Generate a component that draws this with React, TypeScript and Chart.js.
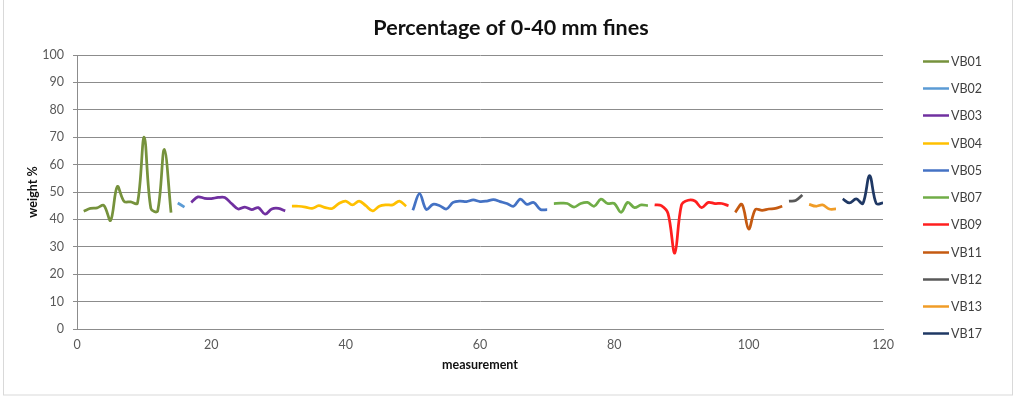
import React, { useEffect, useRef } from "react";
import { Chart, registerables } from "chart.js";

Chart.register(...registerables);

const chartTitle = "Percentage of 0-40 mm fines";
const xAxisTitle = "measurement";
const yAxisTitle = "weight %";

const seriesNames = ["VB01", "VB02", "VB03", "VB04", "VB05", "VB07", "VB09", "VB11", "VB12", "VB13", "VB17"];
const seriesColors = ["#76923c", "#5b9bd5", "#7030a0", "#ffc000", "#4472c4", "#70ad47", "#ff1f1f", "#c55a11", "#595959", "#f09c27", "#1f3864"];
// first measurement number of each series
const seriesStart = [1, 15, 17, 32, 50, 71, 86, 98, 106, 109, 114];

const vb01 = [43, 44, 44.2, 45.1, 39.6, 52, 46.6, 46.4, 45.9, 70, 44, 43, 65.6, 42.5];
const vb02 = [46, 44.5];
const vb03 = [46.2, 48.2, 47.7, 47.6, 48, 48, 45.8, 43.8, 44.5, 43.6, 44.3, 41.9, 43.8, 44, 43.1];
const vb04 = [44.8, 44.8, 44.5, 44, 45, 44.3, 44, 45.8, 46.7, 45.3, 46.7, 45, 43.1, 44.8, 45.3, 45.3, 46.7, 44.8];
const vb05 = [43.3, 49.4, 43.6, 45.5, 45, 43.8, 46.2, 46.7, 46.5, 47.1, 46.5, 46.7, 47.2, 46.5, 45.8, 44.8, 47.4, 45.5, 46.2, 43.6, 43.6];
const vb07 = [45.8, 45.9, 45.8, 44.5, 45.8, 46.2, 44.8, 47.4, 45.8, 45.8, 42.6, 46.2, 44.3, 45.3, 45];
const vb09 = [45.3, 45, 42.1, 27.7, 45.3, 47, 46.7, 44.3, 46.2, 45.8, 45.8, 45];
const vb11 = [42.6, 45.5, 36.5, 43.6, 43.3, 43.8, 44, 44.8];
const vb12 = [46.7, 46.9, 48.9];
const vb13 = [45.5, 44.8, 45.3, 43.8, 43.8];
const vb17 = [47.5, 46, 47.5, 45.8, 56, 45.8, 46];

const seriesValues = [vb01, vb02, vb03, vb04, vb05, vb07, vb09, vb11, vb12, vb13, vb17];

const xTicks = [0, 20, 40, 60, 80, 100, 120];
const yTicks = [0, 10, 20, 30, 40, 50, 60, 70, 80, 90, 100];

const FONT = "Lato, 'Open Sans', 'DejaVu Sans', sans-serif";

const framePlugin = {
  id: "frame",
  beforeDraw(chart: any) {
    const { ctx, width, height } = chart;
    ctx.save();
    ctx.fillStyle = "#ffffff";
    ctx.fillRect(0, 0, width, height);
    ctx.strokeStyle = "#d9d9d9";
    ctx.lineWidth = 1;
    ctx.strokeRect(3.5, -1, width - 9, height - 3);
    ctx.restore();
  },
  afterDraw(chart: any) {
    const { ctx } = chart;
    ctx.save();
    // title
    ctx.fillStyle = "#111111";
    ctx.font = `bold 21.5px ${FONT}`;
    ctx.textAlign = "center";
    ctx.textBaseline = "middle";
    ctx.fillText(chartTitle, 511, 28);
    // legend
    ctx.font = `12.5px ${FONT}`;
    ctx.textAlign = "left";
    chart.data.datasets.forEach((ds: any, i: number) => {
      const y = Math.round(61 + i * 27.23) + 0.5;
      ctx.strokeStyle = ds.borderColor;
      ctx.lineWidth = 2.5;
      ctx.beginPath();
      ctx.moveTo(923, y);
      ctx.lineTo(949, y);
      ctx.stroke();
      ctx.fillStyle = "#404040";
      ctx.fillText(ds.label, 951, y + 0.5);
    });
    ctx.restore();
  },
};

export default function App() {
  const canvasRef = useRef<HTMLCanvasElement | null>(null);

  useEffect(() => {
    document.body.style.margin = "0";
    const canvas = canvasRef.current;
    if (!canvas) return;

    const datasets = seriesNames.map((name, i) => ({
      label: name,
      data: seriesValues[i].map((v, j) => ({ x: seriesStart[i] + j, y: v })),
      borderColor: seriesColors[i],
      backgroundColor: seriesColors[i],
      borderWidth: 2.75,
      pointRadius: 0,
      pointHoverRadius: 0,
      tension: 0.35,
      showLine: true,
      fill: false,
    }));

    const chart = new Chart(canvas, {
      type: "scatter",
      data: { datasets },
      options: {
        animation: false,
        responsive: false,
        devicePixelRatio: 1,
        layout: { padding: { left: 0, right: 135, top: 55, bottom: 0 } },
        plugins: {
          legend: { display: false },
          title: { display: false },
          tooltip: { enabled: false },
        },
        scales: {
          x: {
            type: "linear",
            min: 0,
            max: 120,
            afterBuildTicks: (scale: any) => {
              scale.ticks = xTicks.map((v) => ({ value: v }));
            },
            afterFit: (scale: any) => {
              scale.height = 70;
            },
            grid: { display: false, drawTicks: false },
            border: { display: true, color: "#8c8c8c", width: 1 },
            ticks: {
              color: "#595959",
              font: { family: FONT, size: 12.5 },
              padding: 8,
              maxRotation: 0,
            },
            title: {
              display: true,
              text: xAxisTitle,
              color: "#111111",
              font: { family: FONT, size: 12.5, weight: "bold" },
              padding: { top: 0, bottom: 27 },
            },
          },
          y: {
            type: "linear",
            min: 0,
            max: 100,
            afterBuildTicks: (scale: any) => {
              scale.ticks = yTicks.map((v) => ({ value: v }));
            },
            afterFit: (scale: any) => {
              scale.width = 77;
            },
            grid: { color: "#8c8c8c", lineWidth: 1, tickLength: 4, drawTicks: true },
            border: { display: true, color: "#8c8c8c", width: 1 },
            ticks: {
              color: "#595959",
              font: { family: FONT, size: 12.5 },
              padding: 9,
            },
            title: {
              display: true,
              text: yAxisTitle,
              color: "#111111",
              font: { family: FONT, size: 12.5, weight: "bold" },
              padding: { top: 25, bottom: 0 },
            },
          },
        },
      },
      plugins: [framePlugin],
    });

    return () => {
      chart.destroy();
    };
  }, []);

  return (
    <div style={{ width: 1018, height: 399 }}>
      <canvas ref={canvasRef} width={1018} height={399} style={{ display: "block", width: 1018, height: 399 }} />
    </div>
  );
}
